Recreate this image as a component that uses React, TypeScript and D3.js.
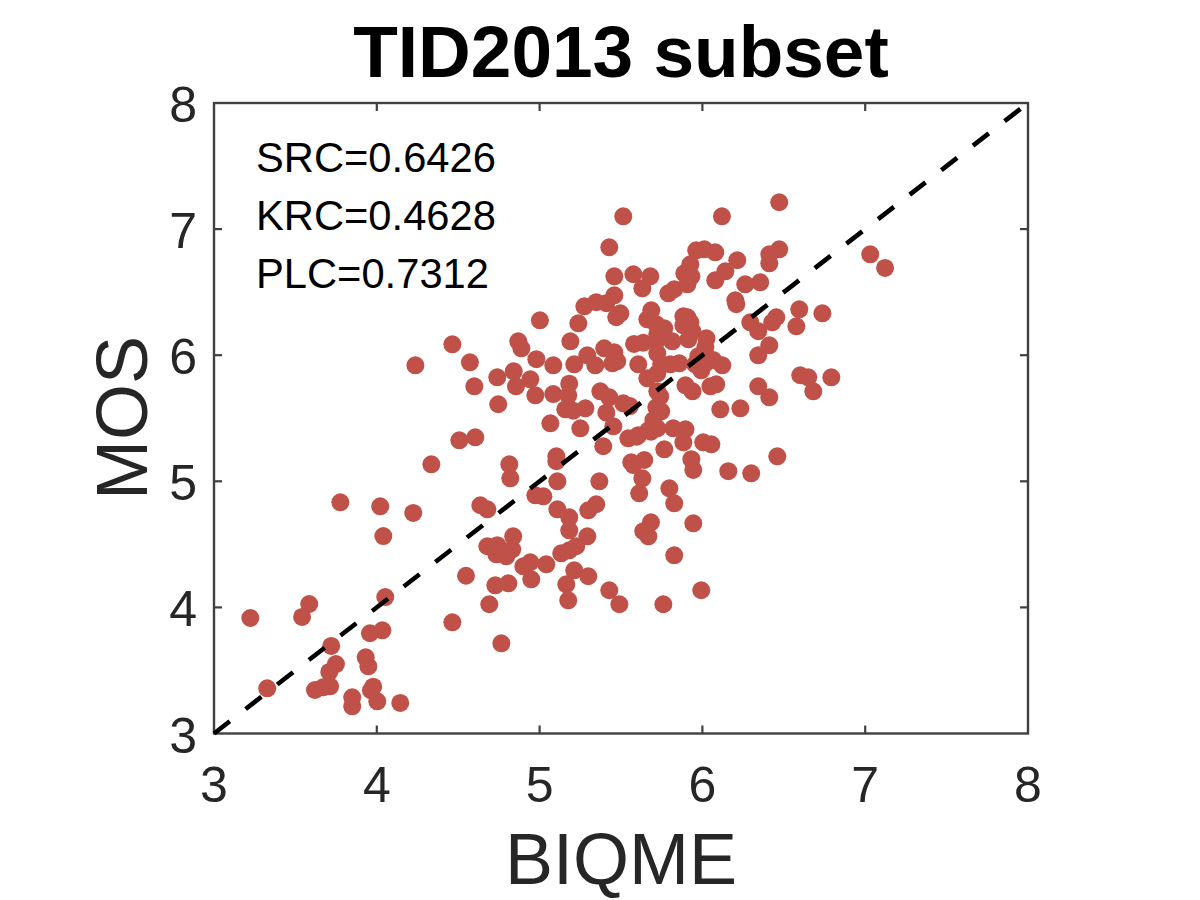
import React from "react";
import * as d3 from "d3";

const titleText = "TID2013 subset";
const xLabel = "BIQME";
const yLabel = "MOS";
const tickValues = [3, 4, 5, 6, 7, 8];
const statLines = ["SRC=0.6426", "KRC=0.4628", "PLC=0.7312"];
const diagonal: [number, number][] = [[3, 3], [8, 8]];

const biqme = [
  3.776, 4.021, 4.224, 4.040, 3.585, 3.541, 3.223, 4.052, 4.464, 4.548, 4.034, 3.958, 3.720, 3.932, 3.948, 3.749, 3.708, 3.713, 3.620, 3.670, 3.327, 3.978, 3.964, 4.003, 3.849, 3.849, 4.144,
  4.464, 4.572, 4.237, 4.599, 4.740, 4.746, 4.841, 4.855, 4.943, 4.974, 4.869, 4.888, 4.980, 5.084, 5.002, 5.238, 5.189, 5.213, 5.293, 5.342, 5.397, 5.459, 5.447, 5.477, 5.606, 5.580, 5.637,
  5.084, 5.182, 5.176, 5.158, 5.207, 5.281, 5.373, 5.428, 5.410, 5.453, 5.514, 5.555, 5.066, 5.250, 5.391, 5.545, 5.596, 5.684, 4.507, 4.605, 4.335, 4.814, 4.820, 5.103, 5.103, 5.109, 5.367,
  5.563, 5.643, 5.631, 5.612, 4.636, 4.679, 4.974, 5.023, 5.109, 5.182, 5.182, 5.299, 5.348, 5.293, 5.225, 5.182, 5.133, 5.684, 5.637, 5.668, 4.838, 4.679, 4.740, 4.832, 4.734, 4.795, 4.777,
  4.943, 4.900, 5.041, 4.949, 5.213, 5.299, 5.164, 5.176, 5.428, 5.490, 4.728, 4.808, 4.691, 4.765, 5.760,
  5.514, 6.120, 6.472, 5.428, 5.459, 5.576, 5.680, 5.631, 5.962, 6.012, 6.079, 6.214, 5.926, 6.141, 6.079, 5.889, 5.932, 5.908, 5.827, 5.791, 6.472, 6.411, 6.411, 7.031, 7.122, 6.263, 6.355, 6.202, 6.208,
  5.459, 5.410, 5.348, 5.275, 5.496, 5.471, 5.686, 5.662, 5.883, 5.908, 5.926, 5.883, 5.717, 5.766, 5.939, 5.914, 6.025, 5.723, 5.815, 5.717, 5.723, 6.018, 5.975, 5.956, 5.993, 6.018, 6.122, 6.067, 5.858, 5.803, 5.747,
  5.723, 5.662, 5.896, 5.939, 6.049, 6.085, 6.343, 6.411, 6.110, 6.233, 5.741, 5.723, 5.717, 5.747, 5.699, 5.723, 5.668, 5.606, 5.821, 5.896, 5.883, 6.005, 6.055, 5.766,
  6.595, 6.737, 6.577, 6.454, 6.429, 6.294, 6.343, 6.411, 6.343, 6.601, 6.650, 6.681, 6.792,
  5.932, 5.944, 6.159, 6.300, 6.460, 5.576, 5.797, 5.827, 5.944, 5.827, 5.993,
];

const mos = [
  4.833, 4.802, 4.749, 4.566, 4.027, 3.924, 3.916, 4.082, 3.882, 4.251, 3.818, 3.795, 3.694, 3.604, 3.533, 3.551, 3.488, 3.374, 3.345, 3.366, 3.358, 3.371, 3.343, 3.255, 3.287, 3.216, 3.242,
  6.086, 5.944, 5.920, 5.753, 5.825, 5.611, 5.872, 5.753, 5.809, 5.682, 6.110, 6.055, 5.968, 5.920, 6.277, 6.253, 6.110, 5.928, 5.999, 5.920, 6.055, 6.023, 5.936, 5.952, 5.928, 6.089, 6.099,
  5.692, 5.774, 5.682, 5.571, 5.560, 5.579, 5.714, 5.666, 5.544, 5.436, 5.618, 5.597, 5.460, 5.420, 5.278, 5.341, 5.354, 5.393, 5.325, 5.349, 5.135, 5.135, 5.024, 5.198, 5.159, 5.000, 5.000,
  5.151, 5.169, 5.024, 4.905, 4.810, 4.778, 4.889, 4.881, 4.778, 4.714, 4.611, 4.770, 4.818, 4.564, 4.485, 4.453, 4.429, 4.675, 4.604, 4.564, 4.564, 4.485, 4.493, 4.461, 4.421, 4.405, 4.442,
  4.358, 4.326, 4.342, 4.223, 4.294, 4.247, 4.183, 4.056, 4.136, 4.025, 4.175, 4.191, 4.025, 3.715, 4.025,
  7.101, 7.101, 7.213, 6.856, 6.626, 6.642, 6.626, 6.530, 6.832, 6.840, 6.816, 6.753, 6.721, 6.665, 6.594, 6.649, 6.626, 6.562, 6.523, 6.491, 6.840, 6.800, 6.729, 6.800, 6.692, 6.562, 6.578, 6.435, 6.404,
  6.475, 6.412, 6.420, 6.388, 6.332, 6.301, 6.356, 6.285, 6.308, 6.301, 6.261, 6.237, 6.245, 6.213, 6.190, 6.126, 6.134, 6.166, 6.110, 6.110, 6.015, 6.063, 5.992, 5.928, 5.880, 5.936, 5.920, 5.962, 5.936, 5.928, 5.928,
  5.856, 5.817, 5.761, 5.714, 5.753, 5.769, 5.753, 5.666, 5.571, 5.579, 5.674, 5.714, 5.587, 5.555, 5.486, 5.420, 5.404, 5.365, 5.420, 5.412, 5.309, 5.309, 5.293, 5.254,
  6.364, 6.332, 6.229, 6.301, 6.261, 6.261, 6.190, 6.078, 5.999, 5.841, 5.825, 5.714, 5.825,
  5.175, 5.090, 5.080, 5.063, 5.198, 5.129, 4.944, 4.825, 4.667, 4.413, 4.136,
];

const font = "'Liberation Sans', Arial, sans-serif";
const axisColor = "#404040";
const textColor = "#262626";
const dotColor = "#BF5148";

export default function App() {
  const x = d3.scaleLinear().domain([3, 8]).range([214, 1028]);
  const y = d3.scaleLinear().domain([3, 8]).range([733.5, 103]);
  const line = d3.line<[number, number]>().x((d) => x(d[0])).y((d) => y(d[1]));
  const tickLen = 8;
  return (
    <svg
      width={1200}
      height={900}
      viewBox="0 0 1200 900"
      style={{ position: "absolute", left: 0, top: 0, background: "#fff" }}
      fontFamily={font}
    >
      <text x={621} y={77} textAnchor="middle" fontSize={73} fontWeight="bold" fill="#000">
        {titleText}
      </text>
      {biqme.map((b, i) => (
        <circle key={i} cx={x(b)} cy={y(mos[i])} r={9} fill={dotColor} />
      ))}
      <rect
        x={x(3)}
        y={y(8)}
        width={x(8) - x(3)}
        height={y(3) - y(8)}
        fill="none"
        stroke={axisColor}
        strokeWidth={2.4}
      />
      {tickValues.slice(1, -1).map((t) => (
        <g key={t} stroke={axisColor} strokeWidth={2.2}>
          <line x1={x(t)} x2={x(t)} y1={y(3)} y2={y(3) - tickLen} />
          <line x1={x(t)} x2={x(t)} y1={y(8)} y2={y(8) + tickLen} />
          <line x1={x(3)} x2={x(3) + tickLen} y1={y(t)} y2={y(t)} />
          <line x1={x(8)} x2={x(8) - tickLen} y1={y(t)} y2={y(t)} />
        </g>
      ))}
      <path d={line(diagonal) ?? ""} fill="none" stroke="#000" strokeWidth={4.6} strokeDasharray="20 20" />
      {tickValues.map((t) => (
        <text key={t} x={x(t)} y={802} textAnchor="middle" fontSize={50} fill={textColor}>
          {t}
        </text>
      ))}
      {tickValues.map((t) => (
        <text key={t} x={197} y={y(t) + 19} textAnchor="end" fontSize={50} fill={textColor}>
          {t}
        </text>
      ))}
      <text x={621} y={884} textAnchor="middle" fontSize={72} fill={textColor}>
        {xLabel}
      </text>
      <text
        transform={`translate(147,418) rotate(-90)`}
        textAnchor="middle"
        fontSize={72}
        fill={textColor}
      >
        {yLabel}
      </text>
      {statLines.map((s, i) => (
        <text key={s} x={256} y={172 + i * 58} fontSize={41.7} fill="#000">
          {s}
        </text>
      ))}
    </svg>
  );
}
